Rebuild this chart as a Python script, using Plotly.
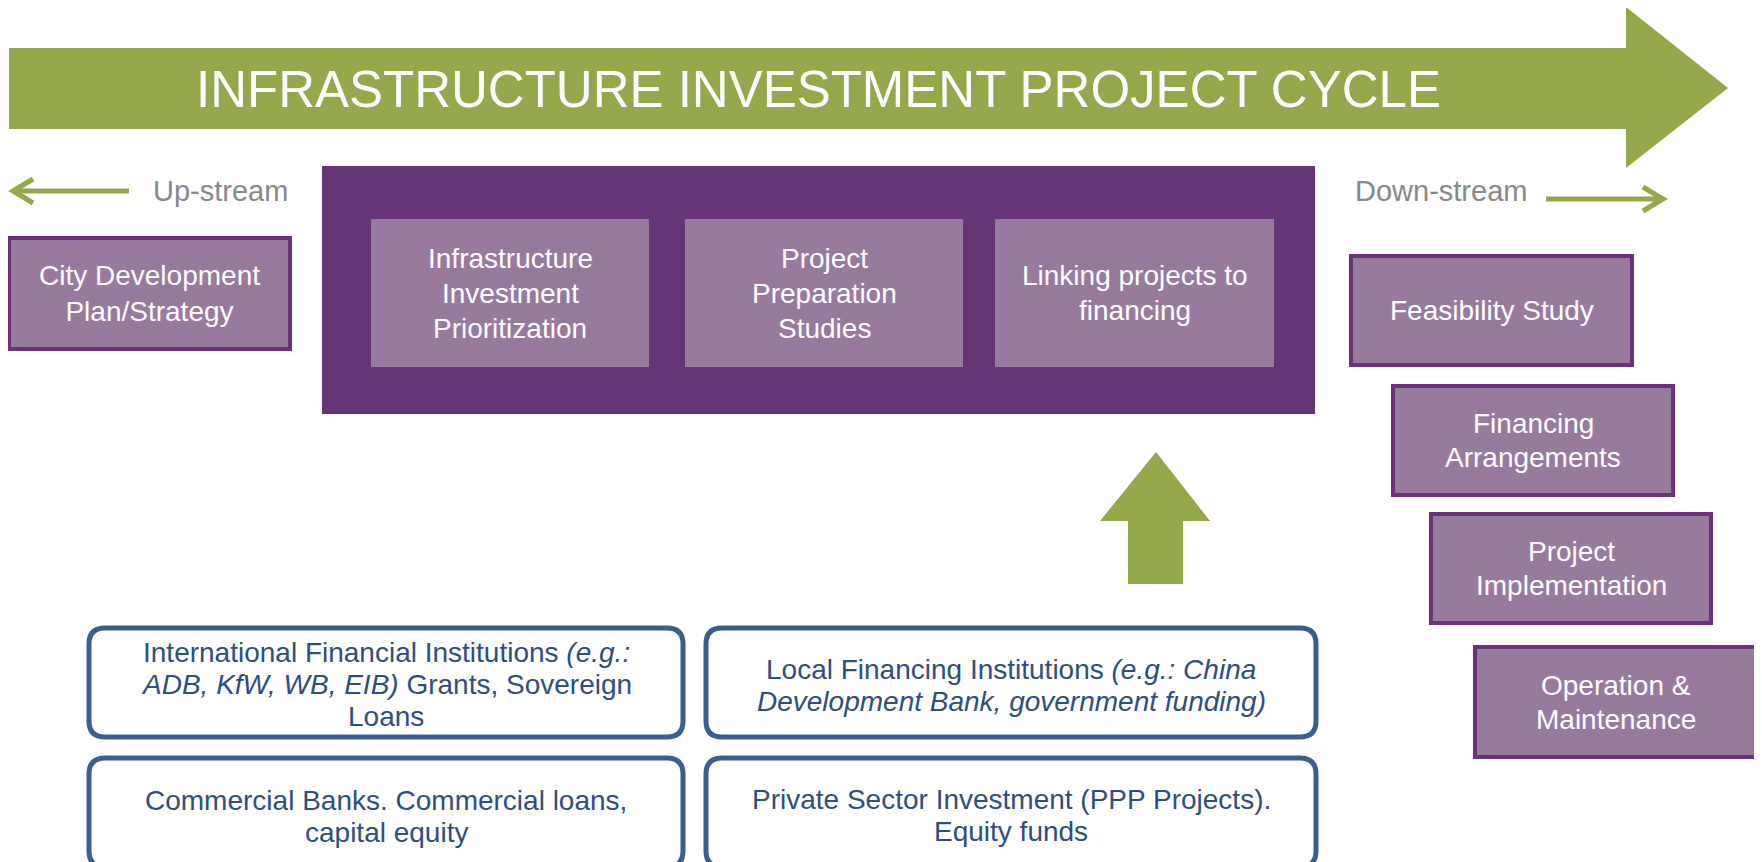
import plotly.graph_objects as go

# ---- text content ----
title_text = "INFRASTRUCTURE INVESTMENT PROJECT CYCLE"
upstream_label = "Up-stream"
downstream_label = "Down-stream"
upstream_stage = "City Development<br>Plan/Strategy"
core_stages = [
    "Infrastructure<br>Investment<br>Prioritization",
    "Project<br>Preparation<br>Studies",
    "Linking projects to<br>financing",
]
downstream_stages = [
    "Feasibility Study",
    "Financing<br>Arrangements",
    "Project<br>Implementation",
    "Operation &<br>Maintenance",
]
finance_sources = [
    "International Financial Institutions <i>(e.g.:</i><br><i>ADB, KfW, WB, EIB)</i> Grants, Sovereign<br>Loans",
    "Local Financing Institutions <i>(e.g.: China</i><br><i>Development Bank, government funding)</i>",
    "Commercial Banks. Commercial loans,<br>capital equity",
    "Private Sector Investment (PPP Projects).<br>Equity funds",
]

# ---- styling ----
W, H = 1762, 862
OFF = 8  # the page body margin shifts the figure by this many pixels
GREEN = "#93A84B"
PURPLE = "#673475"
PURPLE_EDGE = "#6A3278"
LILAC = "#987A9F"
BLUE = "#3B5F8D"
BLUE_TEXT = "#2F4E7C"
GREY = "#888888"
FONT = "Arial, Liberation Sans, sans-serif"

# ---- layout positions (pixels, y downward) ----
core_box = (322, 166, 1315, 414)
core_x = [(371, 649), (685, 963), (995, 1274)]
core_y = (219, 367)
upstream_box = (9, 238, 290, 349)
downstream_boxes = [
    (1351, 256, 1632, 365),
    (1393, 386, 1673, 495),
    (1431, 514, 1711, 623),
    (1475, 647, 1756, 757),
]
finance_boxes = [
    (89, 628, 683, 737),
    (706, 628, 1316, 737),
    (89, 758, 683, 867),
    (706, 758, 1316, 867),
]
finance_text_y = [684, 685, 816, 815]

shapes = []
annotations = []


def rect(box, fill, line_color=None, line_width=0):
    x0, y0, x1, y1 = box
    shapes.append(dict(
        type="rect", xref="x", yref="y", x0=x0, y0=y0, x1=x1, y1=y1,
        fillcolor=fill, layer="below",
        line=dict(color=line_color or fill, width=line_width),
    ))


def rounded(box, r, color, width):
    x0, y0, x1, y1 = box
    p = (f"M{x0+r},{y0} L{x1-r},{y0} Q{x1},{y0} {x1},{y0+r} "
         f"L{x1},{y1-r} Q{x1},{y1} {x1-r},{y1} L{x0+r},{y1} "
         f"Q{x0},{y1} {x0},{y1-r} L{x0},{y0+r} Q{x0},{y0} {x0+r},{y0} Z")
    shapes.append(dict(type="path", xref="x", yref="y", path=p,
                       fillcolor="white", line=dict(color=color, width=width)))


def label(x, y, text, size, color, xanchor="center"):
    annotations.append(dict(
        x=x, y=y, xref="x", yref="y", text=text, showarrow=False,
        xanchor=xanchor, yanchor="middle", align="center",
        font=dict(family=FONT, size=size, color=color),
    ))


def stacked(x, cy, text, size, color, gap):
    # one annotation per line so the line spacing can be set freely
    lines = text.split("<br>")
    top = cy - gap * (len(lines) - 1) / 2
    for k, ln in enumerate(lines):
        label(x, top + k * gap, ln, size, color)


# big process arrow
shapes.append(dict(
    type="path", xref="x", yref="y",
    path="M9,48 L1626,48 L1626,7 L1728,88 L1626,168 L1626,129 L9,129 Z",
    fillcolor=GREEN, line=dict(width=0),
))
label(818, 89, title_text, 51, "white")

# up/down stream arrows
shapes.append(dict(type="path", xref="x", yref="y", path="M129,191 L13,191",
                   line=dict(color=GREEN, width=5)))
shapes.append(dict(type="path", xref="x", yref="y", path="M33,179 L13,191 L33,203",
                   line=dict(color=GREEN, width=5)))
label(151, 191, upstream_label, 29, GREY, xanchor="left")

shapes.append(dict(type="path", xref="x", yref="y", path="M1546,199 L1662,199",
                   line=dict(color=GREEN, width=5)))
shapes.append(dict(type="path", xref="x", yref="y", path="M1643,187 L1663,199 L1643,211",
                   line=dict(color=GREEN, width=5)))
label(1353, 191, downstream_label, 29, GREY, xanchor="left")

# upstream stage
rect(upstream_box, LILAC, PURPLE_EDGE, 4)
label((upstream_box[0] + upstream_box[2]) / 2, (upstream_box[1] + upstream_box[3]) / 2,
      upstream_stage, 28, "white")

# core stages inside the purple block
rect(core_box, PURPLE)
for (x0, x1), txt in zip(core_x, core_stages):
    rect((x0, core_y[0], x1, core_y[1]), LILAC)
    stacked((x0 + x1) / 2, (core_y[0] + core_y[1]) / 2, txt, 28, "white", 35)

# downstream stages
for box, txt in zip(downstream_boxes, downstream_stages):
    rect(box, LILAC, PURPLE_EDGE, 4)
    stacked((box[0] + box[2]) / 2, (box[1] + box[3]) / 2, txt, 28, "white", 34)

# financing up arrow
shapes.append(dict(
    type="path", xref="x", yref="y",
    path="M1128,584 L1128,521 L1100,521 L1156,452 L1210,521 L1183,521 L1183,584 Z",
    fillcolor=GREEN, line=dict(width=0),
))

# financing sources
for box, txt, cy in zip(finance_boxes, finance_sources, finance_text_y):
    rounded(box, 16, BLUE, 5)
    stacked((box[0] + box[2]) / 2, cy, txt, 28, BLUE_TEXT, 32)

fig = go.Figure()
fig.update_layout(
    width=W, height=H,
    margin=dict(l=0, r=0, t=0, b=0),
    paper_bgcolor="white", plot_bgcolor="white",
    xaxis=dict(range=[OFF, W + OFF], visible=False, fixedrange=True),
    yaxis=dict(range=[H + OFF, OFF], visible=False, fixedrange=True),
    shapes=shapes, annotations=annotations,
    showlegend=False,
)
fig.write_html("out.html")
